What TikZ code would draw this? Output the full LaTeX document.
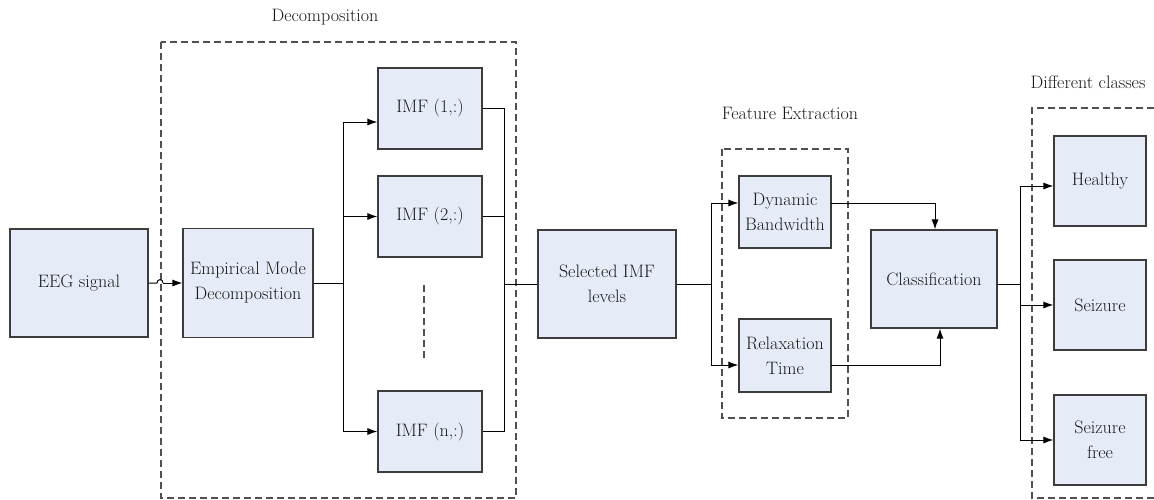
\documentclass[tikz,border=0pt]{standalone}
\usetikzlibrary{arrows.meta}
\definecolor{boxf}{RGB}{230,236,247}
\definecolor{boxc}{RGB}{60,60,60}
\definecolor{dashc}{RGB}{80,80,80}
\definecolor{txt}{RGB}{25,25,25}
\begin{document}
\begin{tikzpicture}[x=1pt,y=-1pt,
  blk/.style={draw=boxc, fill=boxf, line width=1.2pt, inner sep=0pt, align=center, text=txt, font=\fontsize{18}{25}\selectfont},
  lbl/.style={inner sep=0pt, text=txt, font=\fontsize{18}{25}\selectfont},
  dbox/.style={draw=dashc, line width=1.1pt, dash pattern=on 7pt off 4pt},
  ln/.style={line width=1pt, draw=black},
  arr/.style={ln, -{Latex[length=10pt,width=7pt]}}]
\useasboundingbox (0,0) rectangle (1154,499);

% dashed groups
\draw[dbox] (161,42) rectangle (516,498);
\draw[dbox] (722,149) rectangle (848,418);
\draw[dbox] (1154,108) -- (1032,108) -- (1032,498) -- (1154,498);
\draw[dbox] (424,285) -- (424,360);

\node[lbl] (lDec) at (325,17) {Decomposition};
\node[lbl] (lFeat) at (790,113) {Feature Extraction};
\node[lbl] (lCls) at (1088,82) {Different classes};

% blocks
\node[blk, minimum width=138pt, minimum height=108pt] (eeg) at (79,283) {EEG signal};
\node[blk, minimum width=130pt, minimum height=109pt] (emd) at (248,283) {Empirical Mode\\Decomposition};
\node[blk, minimum width=104pt, minimum height=81pt] (imf1) at (430,108.5) {IMF (1,:)};
\node[blk, minimum width=104pt, minimum height=81pt] (imf2) at (430,216.5) {IMF (2,:)};
\node[blk, minimum width=104pt, minimum height=81pt] (imfn) at (430,431.5) {IMF (n,:)};
\node[blk, minimum width=138pt, minimum height=108pt] (sel) at (607,284) {Selected IMF\\levels};
\node[blk, minimum width=92pt, minimum height=72pt] (db) at (785,212) {Dynamic\\Bandwidth};
\node[blk, minimum width=92pt, minimum height=73pt] (rt) at (785,355.5) {Relaxation\\Time};
\node[blk, minimum width=126pt, minimum height=98pt] (cls) at (934,279) {Classification};
\node[blk, minimum width=92pt, minimum height=90pt] (hl) at (1100,181) {Healthy};
\node[blk, minimum width=92pt, minimum height=90pt] (sz) at (1100,305) {Seizure};
\node[blk, minimum width=92pt, minimum height=90pt] (sf) at (1100,440) {Seizure\\free};

% EEG -> EMD with hop over the dashed line
\coordinate (h1) at (157,283);
\coordinate (h2) at (163,283);
\draw[ln] (eeg.east) -- (h1) .. controls (157,278.5) and (163,278.5) .. (h2);
\draw[arr] (h2) -- (emd.west);

% EMD -> IMFs
\coordinate (s0) at (343,283);
\coordinate (s1) at (343,122);
\coordinate (s2) at (343,216.5);
\coordinate (sn) at (343,431.5);
\draw[ln] (emd.east) -- (s0);
\draw[ln] (s1) -- (sn);
\draw[arr] (s1) -- (s1 -| imf1.west);
\draw[arr] (s2) -- (imf2.west);
\draw[arr] (sn) -- (imfn.west);

% IMFs -> Selected
\coordinate (c1) at (504,108.5);
\coordinate (c2) at (504,216.5);
\coordinate (cn) at (504,431.5);
\coordinate (c0) at (504,284);
\draw[ln] (imf1.east) -- (c1) -- (cn) -- (imfn.east);
\draw[ln] (imf2.east) -- (c2);
\draw[ln] (c0) -- (sel.west);

% Selected -> features
\coordinate (f0) at (711,284);
\coordinate (f1) at (711,203);
\coordinate (f2) at (711,365);
\draw[ln] (sel.east) -- (f0);
\draw[ln] (f1) -- (f2);
\draw[arr] (f1) -- (f1 -| db.west);
\draw[arr] (f2) -- (f2 -| rt.west);

% features -> classification
\coordinate (d1) at (831,203);
\coordinate (d2) at (935,203);
\draw[arr] (d1) -- (d2) -- (d2 |- cls.north);
\coordinate (r1) at (831,365);
\coordinate (r2) at (940,365);
\draw[arr] (r1) -- (r2) -- (r2 |- cls.south);

% classification -> classes
\coordinate (k0) at (997,284);
\coordinate (k1) at (1020,284);
\coordinate (kh) at (1020,186);
\coordinate (ks) at (1020,305);
\coordinate (kf) at (1020,440);
\draw[ln] (k0) -- (k1);
\draw[ln] (kh) -- (kf);
\draw[arr] (kh) -- (kh -| hl.west);
\draw[arr] (ks) -- (sz.west);
\draw[arr] (kf) -- (sf.west);
\end{tikzpicture}
\end{document}
